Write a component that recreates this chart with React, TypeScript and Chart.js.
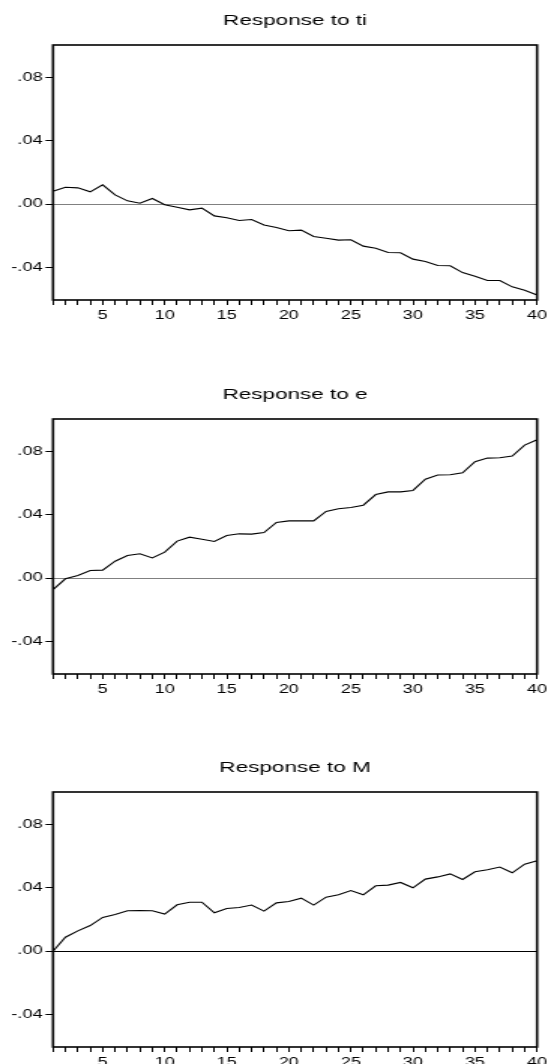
import React, { useEffect, useRef } from "react";
import { Chart, registerables } from "chart.js";

Chart.register(...registerables);

const periods = [1, 2, 3, 4, 5, 6, 7, 8, 9, 10, 11, 12, 13, 14, 15, 16, 17, 18, 19, 20, 21, 22, 23, 24, 25, 26, 27, 28, 29, 30, 31, 32, 33, 34, 35, 36, 37, 38, 39, 40];
const labeledPeriods = [5, 10, 15, 20, 25, 30, 35, 40];

const responseToTi = [
  0.0082, 0.0107, 0.0103, 0.0078, 0.0122, 0.0059, 0.0021, 0.0006, 0.0036, -0.0004,
  -0.0019, -0.0036, -0.0025, -0.0074, -0.0086, -0.0103, -0.0097, -0.0131, -0.0147, -0.0168,
  -0.0164, -0.0204, -0.0215, -0.0227, -0.0225, -0.0265, -0.0278, -0.0305, -0.0307, -0.0347,
  -0.0362, -0.0387, -0.0389, -0.0432, -0.0455, -0.0482, -0.0482, -0.0522, -0.0543, -0.0573,
];
const responseToE = [
  -0.0072, -0.0004, 0.0017, 0.0048, 0.0051, 0.0107, 0.0143, 0.0154, 0.0128, 0.0164,
  0.0234, 0.0259, 0.0246, 0.0232, 0.0269, 0.028, 0.0278, 0.0288, 0.0352, 0.0362,
  0.0362, 0.0362, 0.0421, 0.0438, 0.0446, 0.0461, 0.0528, 0.0545, 0.0545, 0.0554,
  0.0625, 0.0651, 0.0653, 0.0665, 0.0735, 0.0758, 0.076, 0.0771, 0.084, 0.0874,
];
const responseToM = [
  0.0, 0.0088, 0.0128, 0.0162, 0.0213, 0.0232, 0.0255, 0.0257, 0.0255, 0.0234,
  0.0293, 0.0309, 0.0309, 0.0242, 0.0269, 0.0276, 0.0291, 0.0253, 0.0305, 0.0314,
  0.0335, 0.0291, 0.0341, 0.0356, 0.0383, 0.0356, 0.0413, 0.0417, 0.0434, 0.04,
  0.0455, 0.0469, 0.0488, 0.0453, 0.0501, 0.0514, 0.0531, 0.0495, 0.0549, 0.0571,
];

const panelTitles = ["Response to ti", "Response to e", "Response to M"];
const yTickValues = [-0.04, 0, 0.04, 0.08];
const yTickLabels = ["-.04", ".00", ".04", ".08"];
const yMin = -0.0605;
const yMax = 0.1005;

const FONT = "'Liberation Sans', Arial, sans-serif";
const CANVAS_W = 365;
const CANVAS_H = 374;

const framePlugin = {
  id: "frame",
  afterDraw(chart: any) {
    const { ctx, chartArea } = chart;
    const { left, top, right, bottom } = chartArea;
    ctx.save();
    ctx.strokeStyle = "#000";
    ctx.lineWidth = 1.6;
    ctx.strokeRect(left, top, right - left, bottom - top);
    ctx.restore();
  },
};

function Panel({ title, values, zeroColor, top }: { title: string; values: number[]; zeroColor: string; top: number }) {
  const ref = useRef<HTMLCanvasElement | null>(null);

  useEffect(() => {
    if (!ref.current) return;
    const chart = new Chart(ref.current, {
      type: "line",
      data: {
        labels: periods,
        datasets: [
          {
            data: values,
            borderColor: "#000",
            borderWidth: 1.1,
            pointRadius: 0,
            tension: 0,
            fill: false,
          },
        ],
      },
      options: {
        responsive: false,
        animation: false,
        devicePixelRatio: 1,
        layout: { padding: { left: 0, right: 7.3, top: 0, bottom: 44 } },
        plugins: {
          legend: { display: false },
          tooltip: { enabled: false },
          title: {
            display: true,
            text: title,
            fullSize: false,
            color: "#000",
            font: { size: 15, weight: "normal", family: FONT },
            padding: { top: 12, bottom: 15 },
          },
        },
        scales: {
          x: {
            type: "category",
            offset: false,
            border: { display: false },
            grid: {
              drawOnChartArea: false,
              drawTicks: true,
              tickLength: 5,
              tickColor: "#000",
              tickWidth: 1,
            },
            ticks: {
              autoSkip: false,
              maxRotation: 0,
              minRotation: 0,
              padding: 3,
              color: "#000",
              font: { size: 12, family: FONT },
              callback: (_v: any, index: number) => {
                const p = periods[index];
                return labeledPeriods.includes(p) ? String(p) : "";
              },
            },
            afterFit: (s: any) => {
              s.height = 30;
              s.paddingLeft = 0;
              s.paddingRight = 0;
            },
          },
          y: {
            min: yMin,
            max: yMax,
            border: { display: false },
            afterBuildTicks: (s: any) => {
              s.ticks = yTickValues.map((v) => ({ value: v }));
            },
            grid: {
              drawOnChartArea: true,
              drawTicks: true,
              tickLength: 5,
              tickColor: "#000",
              tickWidth: 1,
              lineWidth: 1,
              color: (ctx: any) => (ctx.tick && ctx.tick.value === 0 ? zeroColor : "rgba(0,0,0,0)"),
            },
            ticks: {
              padding: 2,
              color: "#000",
              font: { size: 12, family: FONT },
              callback: (v: any) => {
                const i = yTickValues.indexOf(Number(v));
                return i >= 0 ? yTickLabels[i] : "";
              },
            },
            afterFit: (s: any) => {
              s.width = 35.3;
              s.paddingTop = 0;
              s.paddingBottom = 0;
            },
          },
        },
      },
      plugins: [framePlugin],
    } as any);
    return () => chart.destroy();
  }, [title, values, zeroColor]);

  return (
    <canvas
      ref={ref}
      width={CANVAS_W}
      height={CANVAS_H}
      style={{ position: "absolute", left: 0, top, width: 548, height: CANVAS_H }}
    />
  );
}

export default function App() {
  return (
    <div
      style={{
        position: "absolute",
        left: 0,
        top: 0,
        width: 548,
        height: 1064,
        overflow: "hidden",
        background: "#fff",
      }}
    >
      <Panel title={panelTitles[0]} values={responseToTi} zeroColor="#808080" top={0} />
      <Panel title={panelTitles[1]} values={responseToE} zeroColor="#808080" top={374} />
      <Panel title={panelTitles[2]} values={responseToM} zeroColor="#000" top={747} />
    </div>
  );
}
